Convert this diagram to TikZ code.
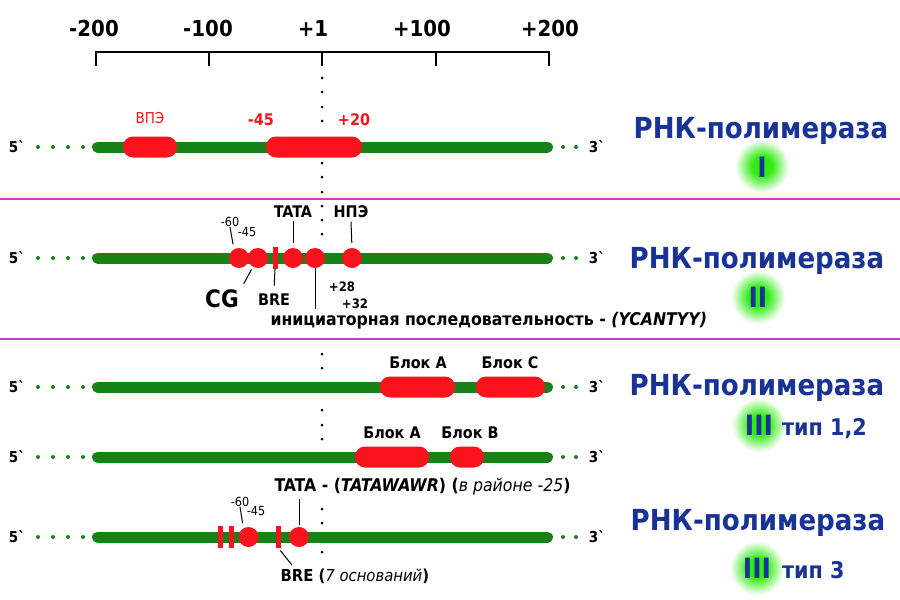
\documentclass[tikz,border=0pt]{standalone}
\usepackage{fontspec}
\setmainfont{DejaVu Sans Condensed}
\usetikzlibrary{calc}

\definecolor{dnagreen}{RGB}{24,130,24}
\definecolor{boxred}{RGB}{250,18,28}
\definecolor{polblue}{RGB}{24,50,150}
\definecolor{glowgreen}{RGB}{50,235,20}
\definecolor{divline}{RGB}{190,70,190}

\pgfdeclareradialshading{glow}{\pgfpoint{0bp}{0bp}}{color(0bp)=(glowgreen); color(9bp)=(glowgreen); color(25bp)=(white); color(50bp)=(white)}

\tikzset{
	dna/.style={line width=11pt, line cap=round, draw=dnagreen},
	blob/.style={fill=boxred, rounded corners=10pt, minimum height=21pt, inner sep=0pt},
	elem/.style={circle, fill=boxred, minimum size=20pt, inner sep=0pt},
	slit/.style={fill=boxred, minimum width=5pt, minimum height=22pt, inner sep=0pt},
	lead/.style={line width=1pt},
	ticklbl/.style={font=\fontsize{22}{25}\selectfont\bfseries},
	endlbl/.style={font=\fontsize{15}{17}\selectfont\bfseries},
	redlbl/.style={text=boxred, font=\fontsize{16}{18}\selectfont\bfseries},
	lbl/.style={font=\fontsize{16}{18}\selectfont\bfseries},
	tinylbl/.style={font=\fontsize{12.5}{14}\selectfont, inner sep=0pt},
	pol/.style={text=polblue, font=\fontsize{29}{32}\selectfont\bfseries},
	polnum/.style={text=polblue, font=\fontsize{28}{30}\selectfont\bfseries, inner sep=0pt},
	poltype/.style={text=polblue, font=\fontsize{23}{26}\selectfont\bfseries, inner sep=0pt}
}

\begin{document}
\begin{tikzpicture}[x=1pt,y=-1pt]
	\useasboundingbox[fill=white] (0,0) rectangle (900,600);

	%the ruler
	\draw[line width=1.6pt] (96,66) -- (96,52) -- (549,52) -- (549,66);
	\foreach \x in {209,322,436}
		\draw[line width=1.6pt] (\x,52) -- (\x,66);
	\foreach \x/\t/\n in {94/-200/m200,208/-100/m100,313/+1/p1,422/+100/p100,550/+200/p200}
		\node[ticklbl] (tick\n) at (\x,28) {\t};

	%dots of the +1 position
	\foreach \y in {78,92,107,121,163,177,192,206,220,234,354,368,410,425,439,509,523,552}
		\fill (322,\y) circle (1.5);

	%dividers
	\draw[divline, line width=1.5pt] (0,199) -- (900,199);
	\draw[divline, line width=1.5pt] (0,339) -- (900,339);

	%the strands
	\foreach \y in {147,258,387,457,537}
		{
		\node[endlbl] (five\y) at (17,\y) {5\textasciigrave};
		\foreach \x in {38,53,68,83}
			\fill[dnagreen] (\x,\y) circle (2);
		\draw[dna] (97.5,\y) -- (547.5,\y);
		\foreach \x in {563,576}
			\fill[dnagreen] (\x,\y) circle (2);
		\node[endlbl] (three\y) at (597,\y) {3\textasciigrave};
		}

	%glows
	\foreach \x/\y in {762/166,758/297,759/425,757/568}
		\shade[shading=glow] (\x,\y) circle (27);

	%pol I
	\node[blob, minimum width=54pt] (vpe) at (150,147) {};
	\node[blob, minimum width=96pt] (core) at (314,147) {};
	\node[text=boxred, font=\fontsize{15}{17}\selectfont] (vpeL) at (150,118) {ВПЭ};
	\node[redlbl] (coreA) at (261,120) {-45};
	\node[redlbl] (coreB) at (354,120) {+20};
	\node[pol] (polA) at (761,131) {РНК-полимераза};
	\node[polnum] (numA) at (762,167) {I};

	%pol II
	\node[elem] (cg60) at (239,258) {};
	\node[elem] (cg45) at (258,258) {};
	\node[slit] (bre) at (275,258) {};
	\node[elem] (tata) at (293,258) {};
	\node[elem] (inr) at (315,258) {};
	\node[elem] (npe) at (352,258) {};
	\node[tinylbl] (m60) at (230,222) {-60};
	\node[tinylbl] (m45) at (247,232) {-45};
	\node[lbl] (tataL) at (293,212) {TATA};
	\node[lbl] (npeL) at (351,212) {НПЭ};
	\node[font=\fontsize{24}{26}\selectfont\bfseries] (cgL) at (222,299) {CG};
	\node[lbl] (breL) at (274,300) {BRE};
	\node[tinylbl, font=\fontsize{13}{14}\selectfont\bfseries] (p28) at (342,287) {+28};
	\node[tinylbl, font=\fontsize{13}{14}\selectfont\bfseries] (p32) at (355,304) {+32};
	\node[lbl, anchor=west, font=\fontsize{17.5}{19}\selectfont\bfseries] (inrL) at (267,321) {инициаторная последовательность - \textit{(YCANTYY)}};
	\draw[lead, shorten >=5pt] (m60.south) -- (cg60.120);
	\draw[lead, shorten >=5pt] (tataL.south) -- (tata.north);
	\draw[lead, shorten >=5pt] (npeL.south) -- (npe.north);
	\draw[lead, shorten <=3pt, shorten >=3pt] (cg45.240) -- (cgL.north east);
	\draw[lead, shorten >=5pt] (bre.south) -- (breL.north);
	\draw[lead] (inr.south) -- (inr.south |- inrL.north);
	\node[pol] (polB) at (757,261) {РНК-полимераза};
	\node[polnum] (numB) at (758,297) {II};

	%pol III type 1,2
	\node[blob, minimum width=75pt] (blkA) at (417.5,387) {};
	\node[blob, minimum width=69pt] (blkC) at (510.5,387) {};
	\node[lbl] (blkAL) at (418,363) {Блок А};
	\node[lbl] (blkCL) at (510,363) {Блок С};
	\node[blob, minimum width=74pt] (blkA2) at (392,457) {};
	\node[blob, minimum width=34pt] (blkB) at (467,457) {};
	\node[lbl] (blkA2L) at (392,433) {Блок А};
	\node[lbl] (blkBL) at (470,433) {Блок В};
	\node[pol] (polC) at (757,388) {РНК-полимераза};
	\node[polnum, anchor=base] (numC) at (759,435) {III};
	\node[poltype, anchor=base west] (typC) at (782,435) {тип 1,2};

	%pol III type 3
	\node[slit] (box1) at (220,537) {};
	\node[slit] (box2) at (231,537) {};
	\node[elem] (dse) at (248.5,537) {};
	\node[slit] (bre3) at (278.5,537) {};
	\node[elem] (tata3) at (299,537) {};
	\node[tinylbl] (n60) at (240,502) {-60};
	\node[tinylbl] (n45) at (256,511) {-45};
	\node[lbl, anchor=west, font=\fontsize{17.5}{19}\selectfont\bfseries] (tata3L) at (271,487) {TATA - (\textit{TATAWAWR}) (\textit{\mdseries в районе -25})};
	\node[lbl, anchor=west, font=\fontsize{16.5}{18}\selectfont\bfseries] (bre3L) at (277,576) {BRE (\textit{\mdseries 7 оснований})};
	\draw[lead, shorten >=5pt] (n60.south) -- (dse.120);
	\draw[lead, shorten >=2pt] (tata3.north |- tata3L.south) -- (tata3.north);
	\draw[lead, shorten <=3pt] (bre3.south) -- ([xshift=15pt]bre3L.north west);
	\node[pol] (polD) at (758,523) {РНК-полимераза};
	\node[polnum, anchor=base] (numD) at (757,578) {III};
	\node[poltype, anchor=base west] (typD) at (782,578) {тип 3};
\end{tikzpicture}
\end{document}
